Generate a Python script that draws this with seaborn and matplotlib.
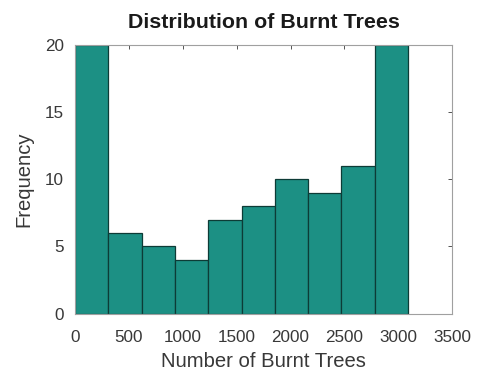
import matplotlib
matplotlib.use("Agg")
import matplotlib.pyplot as plt
import seaborn as sns
import numpy as np
import pandas as pd

# Data
bin_edges = [0, 309, 618, 927, 1236, 1545, 1854, 2163, 2472, 2781, 3090]
counts = [20, 6, 5, 4, 7, 8, 10, 9, 11, 20]
x_ticks = [0, 500, 1000, 1500, 2000, 2500, 3000, 3500]
y_ticks = [0, 5, 10, 15, 20]

centers = [(bin_edges[i] + bin_edges[i + 1]) / 2 for i in range(len(counts))]
df = pd.DataFrame({"trees": centers, "count": counts})

sns.set_theme(style="white")
plt.rcParams['font.family'] = ['Liberation Sans', 'DejaVu Sans']

fig = plt.figure(figsize=(4.81, 3.72), dpi=100)
ax = fig.add_axes([0.156, 0.157, 0.784, 0.722])

sns.histplot(data=df, x="trees", weights="count", bins=bin_edges, ax=ax,
             color="#1c9084", edgecolor="#0d3b36", linewidth=0.9, alpha=1.0)

ax.set_xlim(0, 3500)
ax.set_ylim(0, 20)
ax.set_xticks(x_ticks)
ax.set_yticks(y_ticks)
ax.tick_params(axis="both", direction="in", length=3, colors="#383838",
               labelsize=12.3, width=0.6, top=True, right=True,
               labeltop=False, labelright=False)
ax.tick_params(axis="x", pad=12)
ax.tick_params(axis="y", pad=8)
for sp in ax.spines.values():
    sp.set_color("#a0a0a0")
    sp.set_linewidth(0.8)
ax.set_xlabel("Number of Burnt Trees", fontsize=14.6, color="#383838", labelpad=5)
ax.set_ylabel("Frequency", fontsize=14.6, color="#383838", labelpad=8)
ax.set_title("Distribution of Burnt Trees", fontsize=15.4, fontweight="bold",
             color="#1a1a1a", pad=12)

fig.savefig("out.png", dpi=100)
